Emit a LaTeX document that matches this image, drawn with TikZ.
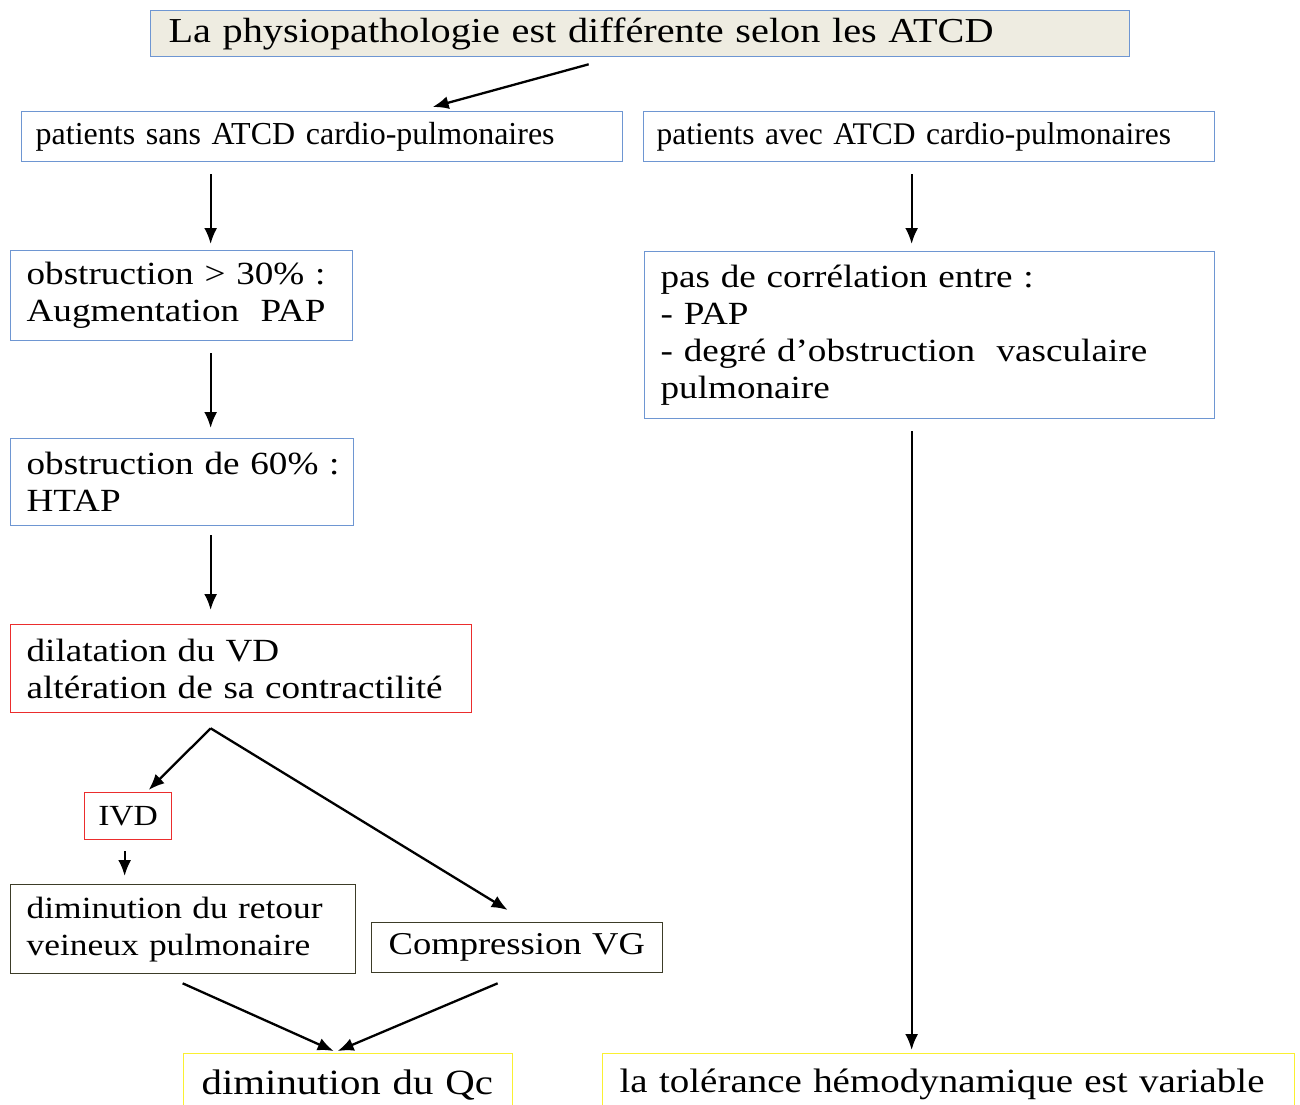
\documentclass[tikz,border=0pt]{standalone}
\usepackage{fontspec}
\setmainfont{Liberation Serif}
\newfontfamily\widefont{Liberation Serif}[FakeStretch=1.15]
\usetikzlibrary{arrows.meta}
\definecolor{boxblue}{RGB}{110,150,210}
\definecolor{titlefill}{RGB}{238,236,225}
\definecolor{boxred}{RGB}{235,45,45}
\definecolor{boxdark}{RGB}{60,60,40}
\definecolor{boxyellow}{RGB}{250,240,50}

\begin{document}
\begin{tikzpicture}[x=1pt,y=-1pt,
  box/.style={draw=#1, line width=1.3pt, anchor=north west, align=left, inner xsep=16pt, inner ysep=0pt},
  box/.default=boxblue,
  wfont/.style={font={\widefont\fontsize{#1}{37}\selectfont}},
  arr/.style={-{Latex[length=16pt,width=13pt]}, line width=2.3pt}]
\useasboundingbox (0,0) rectangle (1300,1104);
\clip (0,0) rectangle (1300,1104);

\node[box, fill=titlefill, inner xsep=18pt, text width=943pt, minimum height=46pt, font={\widefont\fontsize{35}{40}\selectfont}](atcd) at (150,10) {La physiopathologie est différente selon les ATCD};
\node[box, inner xsep=14pt, text width=573pt, minimum height=50pt, font={\fontsize{32}{37}\selectfont}](sans) at (21,111) {patients sans ATCD cardio-pulmonaires};
\node[box, inner xsep=13pt, text width=545pt, minimum height=50pt, font={\fontsize{31.5}{37}\selectfont}](avec) at (643,111) {patients avec ATCD cardio-pulmonaires};

\node[box, wfont=32.3, text width=310pt, minimum height=90pt](obs30) at (10,250) {\mbox{obstruction > 30\%~:}\\Augmentation\ \ PAP};
\node[box, wfont=32.3, text width=311pt, minimum height=87pt](obs60) at (10,438) {\mbox{obstruction de 60\%~:}\\HTAP};
\node[box=boxred, wfont=32.3, text width=429pt, minimum height=88pt](dilat) at (10,624) {dilatation du VD\\altération de sa contractilité};
\node[box=boxred, wfont=29.2, inner xsep=0pt, align=center, text width=87pt, minimum height=47pt](ivd) at (84,792) {IVD};
\node[box=boxdark, wfont=30.8, text width=313pt, minimum height=89pt](retour) at (10,884) {diminution du retour\\veineux pulmonaire};
\node[box=boxdark, wfont=31.8, inner xsep=17pt, text width=257pt, minimum height=50pt](compvg) at (371,922) {Compression~VG};
\node[box=boxyellow, wfont=35.5, inner xsep=18pt, text width=293pt, minimum height=62pt](qc) at (183,1053) {\mbox{diminution du Qc}};

\node[box, wfont=32.3, text width=538pt, minimum height=167pt](correl) at (644,251) {pas de corrélation entre :\\- PAP\\- degré d’obstruction\ \ vasculaire\\pulmonaire};
\node[box=boxyellow, wfont=33.9, inner xsep=17pt, text width=658pt, minimum height=62pt](toler) at (602,1053) {la tolérance hémodynamique est variable};

% left branch
\draw[arr] ([xshift=-51.5pt,yshift=-7pt]atcd.south) -- ([xshift=110.5pt,yshift=4pt]sans.north);
\draw[arr] ([xshift=-111.5pt,yshift=-12pt]sans.south) -- ([xshift=29pt,yshift=6pt]obs30.north);
\draw[arr] ([xshift=29pt,yshift=-12pt]obs30.south) -- ([xshift=28.5pt,yshift=10pt]obs60.north);
\draw[arr] ([xshift=28.5pt,yshift=-9pt]obs60.south) -- ([xshift=-30.5pt,yshift=14pt]dilat.north);
\draw[arr] ([xshift=-30.5pt,yshift=-15pt]dilat.south) -- ([xshift=20.5pt,yshift=2pt]ivd.north);
\draw[arr] ([xshift=-30.5pt,yshift=-15pt]dilat.south) -- ([xshift=-9.5pt,yshift=12pt]compvg.north);
\draw[arr] ([xshift=-3.5pt,yshift=-11pt]ivd.south) -- ([xshift=-58.5pt,yshift=8pt]retour.north);
\draw[arr] ([xshift=-0.5pt,yshift=-9pt]retour.south) -- ([xshift=-14.5pt,yshift=2pt]qc.north);
\draw[arr] ([xshift=-19.5pt,yshift=-10pt]compvg.south) -- ([xshift=-10.5pt,yshift=2pt]qc.north);

% right branch
\draw[arr] ([xshift=-17.5pt,yshift=-12pt]avec.south) -- ([xshift=-18pt,yshift=7pt]correl.north);
\draw[arr] ([xshift=-18pt,yshift=-12pt]correl.south) -- ([xshift=-37pt,yshift=3pt]toler.north);
\end{tikzpicture}
\end{document}
